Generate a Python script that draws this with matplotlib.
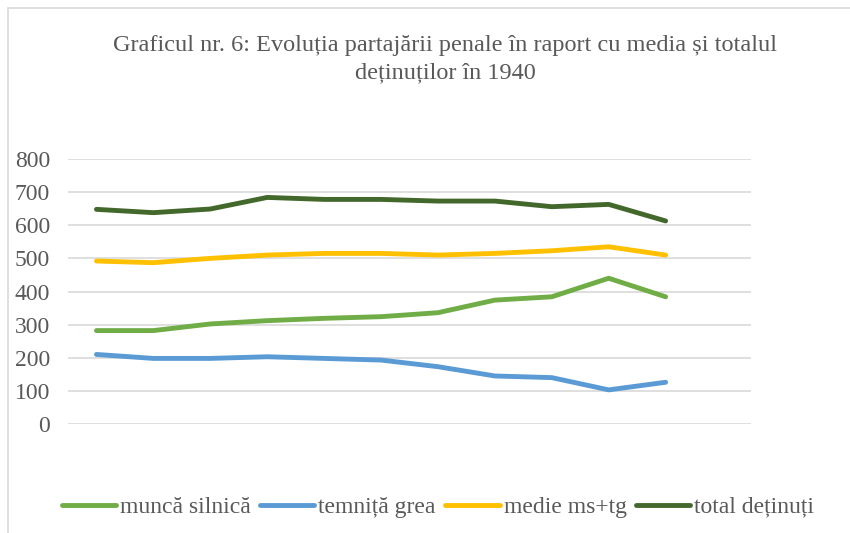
import matplotlib
matplotlib.use('Agg')
from matplotlib import pyplot as plt
from matplotlib.patches import Rectangle

# Date
puncte = list(range(11))
munca_silnica = [282, 282, 302, 312, 319, 324, 336, 374, 384, 440, 384]
temnita_grea = [210, 198, 198, 203, 198, 193, 173, 145, 140, 103, 126]
medie_ms_tg = [492, 487, 500, 510, 515, 515, 510, 515, 523, 535, 510]
total_detinuti = [648, 638, 649, 684, 678, 678, 673, 673, 656, 663, 613]

etichete = ['muncă silnică', 'temniță grea', 'medie ms+tg', 'total deținuți']
culori = ['#70AD47', '#5B9BD5', '#FFC000', '#43682B']
serii = [munca_silnica, temnita_grea, medie_ms_tg, total_detinuti]

plt.rcParams['font.family'] = ['Liberation Serif', 'DejaVu Serif']
gri = '#595959'

fig = plt.figure(figsize=(8.5, 5.33), dpi=100)
# chenarul graficului (ca in Excel)
fig.patches.append(Rectangle((8 / 850, -0.05), 1.0, 1 - 8 / 533 + 0.05,
                             transform=fig.transFigure, fill=False,
                             edgecolor='#D9D9D9', linewidth=1.2))

ax = fig.add_axes([68 / 850, 1 - 424 / 533, (751 - 68) / 850, (424 - 159) / 533])

for valori, culoare, eticheta in zip(serii, culori, etichete):
    ax.plot(puncte, valori, color=culoare, linewidth=3.5, label=eticheta,
            solid_capstyle='round', solid_joinstyle='round')

ax.set_xlim(-0.5, 11.5)
ax.set_ylim(0, 800)
ax.set_yticks(range(0, 801, 100))
ax.set_xticks([])
ax.grid(axis='y', color='#D9D9D9', linewidth=1.2)
ax.set_axisbelow(True)
for s in ax.spines.values():
    s.set_visible(False)
ax.tick_params(axis='y', length=0, pad=13, labelsize=17, labelcolor=gri)

fig.text(445 / 850, 1 - 46 / 533, 'Graficul nr. 6: Evoluția partajării penale în raport cu media și totalul',
         ha='center', va='center', fontsize=17.5, color=gri)
fig.text(445 / 850, 1 - 73 / 533, 'deținuților în 1940',
         ha='center', va='center', fontsize=17.5, color=gri)

fig.legend(loc='center', bbox_to_anchor=(438 / 850, 1 - 507 / 533), ncol=4,
           frameon=False, fontsize=17, labelcolor=gri, handlelength=2.3,
           handletextpad=0.17, columnspacing=0.4)

fig.savefig('out.png', dpi=100)
